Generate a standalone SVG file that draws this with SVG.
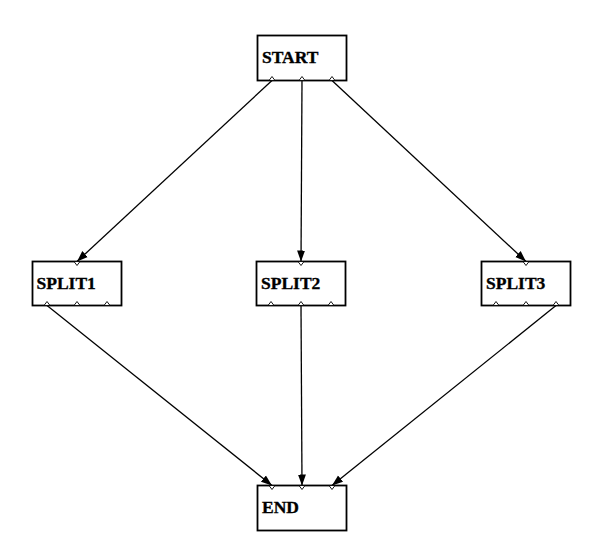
<svg xmlns="http://www.w3.org/2000/svg" width="601" height="556" viewBox="0 0 601 556">
<style>
.box{fill:#fff;stroke:#000;stroke-width:1.8}
.port{fill:#fff;stroke:#000;stroke-width:0.9}
.lbl{font-family:"Liberation Serif","Times New Roman",serif;font-weight:bold;font-size:17.5px;fill:#000;stroke:#000;stroke-width:0.35}
.edge{stroke:#000;stroke-width:1.3;fill:none;marker-end:url(#ah)}
</style>
<defs>
<marker id="ah" markerUnits="userSpaceOnUse" markerWidth="12" markerHeight="10" refX="11" refY="4" orient="auto" viewBox="0 0 12 8">
<path d="M0,0 L11,4 L0,8 Z" fill="#000"/>
</marker>
</defs>
<rect width="601" height="556" fill="#fff"/>
<g id="connectors">
<line class="edge" x1="272" y1="80.5" x2="77" y2="261.5"/>
<line class="edge" x1="302" y1="80.5" x2="301" y2="261.5"/>
<line class="edge" x1="332" y1="80.5" x2="526" y2="261.5"/>
<line class="edge" x1="47" y1="305.5" x2="272" y2="485.5"/>
<line class="edge" x1="301" y1="305.5" x2="302" y2="485.5"/>
<line class="edge" x1="556" y1="305.5" x2="332" y2="485.5"/>
</g>
<g id="START">
<rect class="box" x="257.5" y="35.5" width="89" height="45"/>
<text class="lbl" x="262" y="62.5">START</text>
<path class="port" d="M269,80.5 L272,76.5 L275,80.5 Z M299,80.5 L302,76.5 L305,80.5 Z M329,80.5 L332,76.5 L335,80.5 Z"/>
</g>
<g id="SPLIT1">
<rect class="box" x="32.5" y="261.5" width="89" height="44"/>
<text class="lbl" x="36.5" y="288.5">SPLIT1</text>
<path class="port" d="M74,261.5 L77,265.5 L80,261.5 Z"/>
<path class="port" d="M44,305.5 L47,301.5 L50,305.5 Z M74,305.5 L77,301.5 L80,305.5 Z M104,305.5 L107,301.5 L110,305.5 Z"/>
</g>
<g id="SPLIT2">
<rect class="box" x="256.5" y="261.5" width="89" height="44"/>
<text class="lbl" x="261" y="288.5">SPLIT2</text>
<path class="port" d="M298,261.5 L301,265.5 L304,261.5 Z"/>
<path class="port" d="M268,305.5 L271,301.5 L274,305.5 Z M298,305.5 L301,301.5 L304,305.5 Z M328,305.5 L331,301.5 L334,305.5 Z"/>
</g>
<g id="SPLIT3">
<rect class="box" x="481.5" y="261.5" width="89" height="44"/>
<text class="lbl" x="486" y="288.5">SPLIT3</text>
<path class="port" d="M523,261.5 L526,265.5 L529,261.5 Z"/>
<path class="port" d="M493,305.5 L496,301.5 L499,305.5 Z M523,305.5 L526,301.5 L529,305.5 Z M553,305.5 L556,301.5 L559,305.5 Z"/>
</g>
<g id="END">
<rect class="box" x="257.5" y="485.5" width="89" height="45"/>
<text class="lbl" x="262" y="513">END</text>
<path class="port" d="M269,485.5 L272,489.5 L275,485.5 Z M299,485.5 L302,489.5 L305,485.5 Z M329,485.5 L332,489.5 L335,485.5 Z"/>
</g>
</svg>
